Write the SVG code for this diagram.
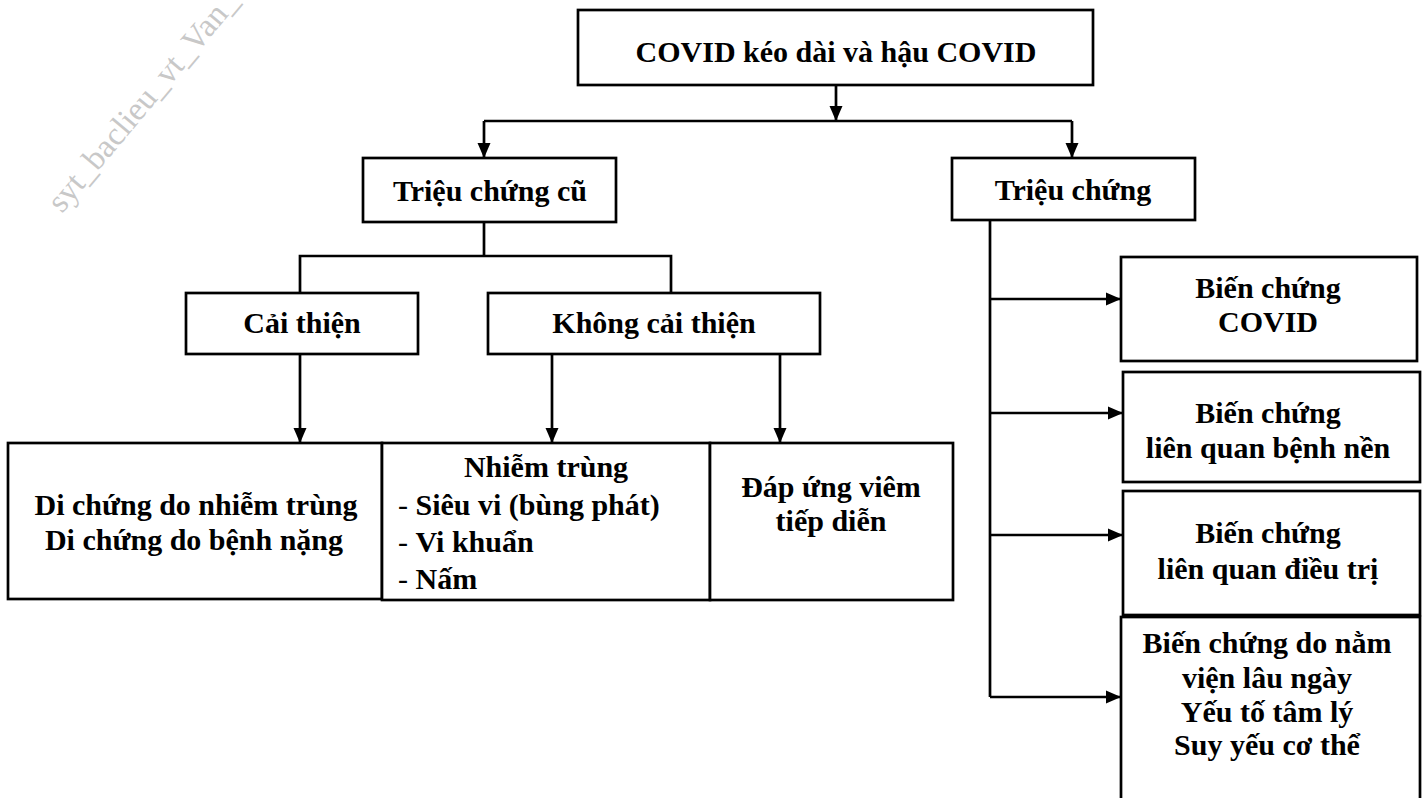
<svg xmlns="http://www.w3.org/2000/svg" width="1424" height="798" viewBox="0 0 1424 798">
<defs>
<marker id="ah" markerUnits="userSpaceOnUse" markerWidth="16" markerHeight="16" refX="15" refY="8" orient="auto">
<path d="M0,1.5 L15,8 L0,14.5 z" fill="#000"/>
</marker>
</defs>
<style>
.box{fill:#fff;stroke:#000;stroke-width:2.7}
.t{font-family:"Liberation Serif","Times New Roman",serif;font-weight:bold;font-size:30px;fill:#000;text-anchor:middle}
.l{font-family:"Liberation Serif","Times New Roman",serif;font-weight:bold;font-size:30px;fill:#000}
.d{font-weight:normal}
.c{fill:none;stroke:#000;stroke-width:2.7}
.a{fill:none;stroke:#000;stroke-width:2.7;marker-end:url(#ah)}
</style>
<rect width="1424" height="798" fill="#fff"/>
<text x="62" y="214" transform="rotate(-50 62 214)" font-family="Liberation Serif, serif" font-size="33" fill="#c8c8c8">syt_baclieu_vt_Van_thu</text>
<g id="connectors">
<path class="a" d="M836,85 V121"/>
<path class="c" d="M484,121 H1072"/>
<path class="a" d="M484,121 V158"/>
<path class="a" d="M1072,121 V158"/>
<path class="c" d="M484,222 V256"/>
<path class="c" d="M300,293 V256 H671 V293"/>
<path class="a" d="M300,354 V443"/>
<path class="a" d="M552,354 V443"/>
<path class="a" d="M780,354 V443"/>
<path class="c" d="M990,220 V697"/>
<path class="a" d="M990,697 H1121"/>
<path class="a" d="M990,299 H1121"/>
<path class="a" d="M990,413 H1123"/>
<path class="a" d="M990,535 H1123"/>
</g>
<g id="n-title"><rect class="box" x="578" y="10" width="515" height="75"/><text class="t" x="836" y="62">COVID kéo dài và hậu COVID</text></g>
<g id="n-old"><rect class="box" x="363" y="158" width="253" height="64"/><text class="t" x="490" y="201">Triệu chứng cũ</text></g>
<g id="n-sym"><rect class="box" x="952" y="158" width="243" height="62"/><text class="t" x="1073" y="200">Triệu chứng</text></g>
<g id="n-improve"><rect class="box" x="186" y="293" width="232" height="61"/><text class="t" x="302" y="333">Cải thiện</text></g>
<g id="n-noimprove"><rect class="box" x="488" y="293" width="332" height="61"/><text class="t" x="654" y="333">Không cải thiện</text></g>
<g id="n-sequelae"><rect class="box" x="8" y="443" width="374" height="156"/><text class="t" x="196" y="515">Di chứng do nhiễm trùng</text><text class="t" x="194" y="550">Di chứng do bệnh nặng</text></g>
<g id="n-infect"><rect class="box" x="382" y="443" width="328" height="157"/><text class="t" x="546" y="477">Nhiễm trùng</text><text class="l" x="398" y="515"><tspan class="d">- </tspan>Siêu vi (bùng phát)</text><text class="l" x="398" y="552"><tspan class="d">- </tspan>Vi khuẩn</text><text class="l" x="398" y="589"><tspan class="d">- </tspan>Nấm</text></g>
<g id="n-inflam"><rect class="box" x="710" y="443" width="243" height="157"/><text class="t" x="831" y="497">Đáp ứng viêm</text><text class="t" x="831" y="531">tiếp diễn</text></g>
<g id="n-comp1"><rect class="box" x="1121" y="257" width="296" height="104"/><text class="t" x="1268" y="298">Biến chứng</text><text class="t" x="1268" y="332">COVID</text></g>
<g id="n-comp2"><rect class="box" x="1123" y="372" width="297" height="110"/><text class="t" x="1268" y="423">Biến chứng</text><text class="t" x="1268" y="458">liên quan bệnh nền</text></g>
<g id="n-comp3"><rect class="box" x="1123" y="491" width="297" height="124"/><text class="t" x="1268" y="543">Biến chứng</text><text class="t" x="1268" y="579">liên quan điều trị</text></g>
<g id="n-comp4"><rect class="box" x="1121" y="617" width="299" height="220"/><text class="t" x="1267" y="653">Biến chứng do nằm</text><text class="t" x="1267" y="688">viện lâu ngày</text><text class="t" x="1267" y="722">Yếu tố tâm lý</text><text class="t" x="1267" y="755">Suy yếu cơ thể</text></g>
</svg>
